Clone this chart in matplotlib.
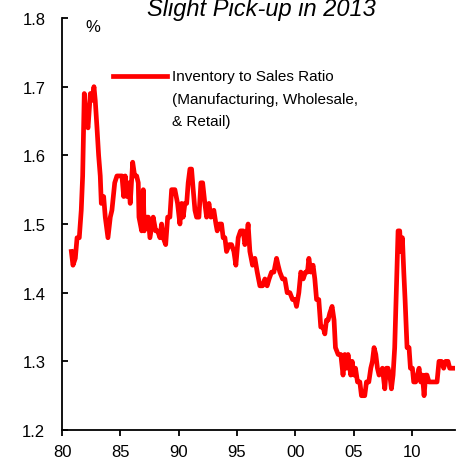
import matplotlib.pyplot as plt

# inventory to sales ratio (decimal years)
years = [
    1980.80, 1980.94, 1981.14, 1981.29, 1981.48, 1981.65, 1981.77, 1981.91,
    1982.06, 1982.23, 1982.43, 1982.57, 1982.74, 1982.85, 1983.00, 1983.14,
    1983.28, 1983.37, 1983.57, 1983.71, 1983.94, 1984.14, 1984.28, 1984.52,
    1984.71, 1985.14, 1985.29, 1985.42, 1985.57, 1985.72, 1985.85, 1986.06,
    1986.23, 1986.40, 1986.54, 1986.60, 1986.83, 1986.97, 1987.05, 1987.26,
    1987.40, 1987.54, 1987.82, 1988.03, 1988.20, 1988.40, 1988.54, 1988.68,
    1988.89, 1989.06, 1989.25, 1989.40, 1989.68, 1989.91, 1990.11, 1990.26,
    1990.39, 1990.54, 1990.69, 1990.82, 1990.97, 1991.11, 1991.25, 1991.40,
    1991.54, 1991.74, 1991.91, 1992.06, 1992.25, 1992.40, 1992.60, 1992.77,
    1993.02, 1993.20, 1993.31, 1993.48, 1993.68, 1993.82, 1993.97, 1994.11,
    1994.34, 1994.54, 1994.74, 1994.91, 1995.11, 1995.31, 1995.54, 1995.68,
    1995.83, 1995.96, 1996.11, 1996.34, 1996.54, 1996.74, 1996.97, 1997.20,
    1997.40, 1997.59, 1997.76, 1997.97, 1998.17, 1998.40, 1998.53, 1998.68,
    1998.91, 1999.11, 1999.31, 1999.54, 1999.77, 1999.97, 2000.11, 2000.31,
    2000.48, 2000.68, 2000.88, 2001.05, 2001.17, 2001.34, 2001.53, 2001.68,
    2001.83, 2002.02, 2002.19, 2002.39, 2002.54, 2002.68, 2002.82, 2002.96,
    2003.16, 2003.33, 2003.45, 2003.68, 2003.91, 2004.10, 2004.25, 2004.40,
    2004.53, 2004.76, 2004.88, 2005.05, 2005.17, 2005.34, 2005.54, 2005.68,
    2005.96, 2006.11, 2006.31, 2006.48, 2006.62, 2006.76, 2006.91, 2007.05,
    2007.19, 2007.48, 2007.68, 2007.82, 2007.96, 2008.11, 2008.25, 2008.39,
    2008.53, 2008.68, 2008.82, 2008.96, 2009.05, 2009.19, 2009.31, 2009.42,
    2009.59, 2009.76, 2009.88, 2010.05, 2010.16, 2010.33, 2010.48, 2010.62,
    2010.76, 2010.91, 2011.05, 2011.19, 2011.30, 2011.47, 2012.16, 2012.33,
    2012.54, 2012.73, 2012.90, 2013.10, 2013.25, 2013.68,
]
ratio = [
    1.46, 1.44, 1.45, 1.48, 1.48, 1.52, 1.57, 1.69,
    1.65, 1.64, 1.69, 1.68, 1.70, 1.68, 1.64, 1.60,
    1.57, 1.53, 1.54, 1.51, 1.48, 1.51, 1.52, 1.56,
    1.57, 1.57, 1.54, 1.57, 1.54, 1.56, 1.53, 1.59,
    1.57, 1.57, 1.56, 1.51, 1.49, 1.55, 1.49, 1.51,
    1.51, 1.48, 1.51, 1.49, 1.49, 1.48, 1.50, 1.48,
    1.47, 1.51, 1.51, 1.55, 1.55, 1.53, 1.50, 1.53,
    1.51, 1.53, 1.53, 1.56, 1.58, 1.58, 1.55, 1.52,
    1.51, 1.51, 1.56, 1.56, 1.53, 1.51, 1.53, 1.51,
    1.52, 1.50, 1.49, 1.50, 1.50, 1.48, 1.48, 1.46,
    1.47, 1.47, 1.46, 1.44, 1.48, 1.49, 1.49, 1.47,
    1.48, 1.50, 1.46, 1.44, 1.45, 1.43, 1.41, 1.41,
    1.42, 1.41, 1.42, 1.43, 1.43, 1.45, 1.44, 1.43,
    1.42, 1.42, 1.40, 1.40, 1.39, 1.39, 1.38, 1.40,
    1.43, 1.42, 1.43, 1.43, 1.45, 1.43, 1.44, 1.42,
    1.39, 1.39, 1.35, 1.35, 1.34, 1.36, 1.36, 1.37,
    1.38, 1.36, 1.32, 1.31, 1.31, 1.28, 1.31, 1.29,
    1.31, 1.28, 1.30, 1.28, 1.29, 1.27, 1.27, 1.25,
    1.25, 1.27, 1.27, 1.29, 1.30, 1.32, 1.31, 1.29,
    1.28, 1.29, 1.26, 1.29, 1.29, 1.28, 1.26, 1.28,
    1.32, 1.41, 1.49, 1.49, 1.46, 1.48, 1.43, 1.39,
    1.32, 1.32, 1.29, 1.29, 1.27, 1.27, 1.28, 1.29,
    1.27, 1.28, 1.25, 1.28, 1.28, 1.27, 1.27, 1.30,
    1.30, 1.29, 1.30, 1.30, 1.29, 1.29,
]

x_ticks = [1980, 1985, 1990, 1995, 2000, 2005, 2010]
x_labels = ['80', '85', '90', '95', '00', '05', '10']
y_ticks = [1.2, 1.3, 1.4, 1.5, 1.6, 1.7, 1.8]

plt.rcParams['font.family'] = ['Liberation Sans', 'DejaVu Sans']

fig = plt.figure(figsize=(4.58, 4.60), dpi=100)
ax = fig.add_axes([0.1354, 0.063, 0.858, 0.8957])

ax.plot(years, ratio, color='#ff0000', lw=3.4, solid_joinstyle='round')

ax.set_xlim(1980, 2013.7)
ax.set_ylim(1.2, 1.8)
ax.set_xticks(x_ticks)
ax.set_xticklabels(x_labels)
ax.set_yticks(y_ticks)
ax.set_yticklabels([f'{v:.1f}' for v in y_ticks])

for s in ['top', 'right']:
    ax.spines[s].set_visible(False)
for s in ['left', 'bottom']:
    ax.spines[s].set_linewidth(1.3)

ax.tick_params(axis='y', direction='in', length=4, width=1.3, pad=12, labelsize=12)
ax.tick_params(axis='x', direction='out', length=4, width=1.3, pad=6, labelsize=12)

ax.text(0.079, 0.98, '%', transform=ax.transAxes, ha='center', va='center', fontsize=12)

# legend
ax.plot([0.130, 0.267], [0.859, 0.859], transform=ax.transAxes, color='#ff0000', lw=3.4)
ax.text(0.280, 0.859, 'Inventory to Sales Ratio', transform=ax.transAxes,
        ha='left', va='center', fontsize=11)
ax.text(0.280, 0.803, '(Manufacturing, Wholesale,', transform=ax.transAxes,
        ha='left', va='center', fontsize=11)
ax.text(0.280, 0.751, '& Retail)', transform=ax.transAxes,
        ha='left', va='center', fontsize=11)

fig.text(261 / 458, 0.965, 'Slight Pick-up in 2013', ha='center', va='baseline',
         fontsize=17, style='italic')

plt.savefig('out.png', dpi=100)
